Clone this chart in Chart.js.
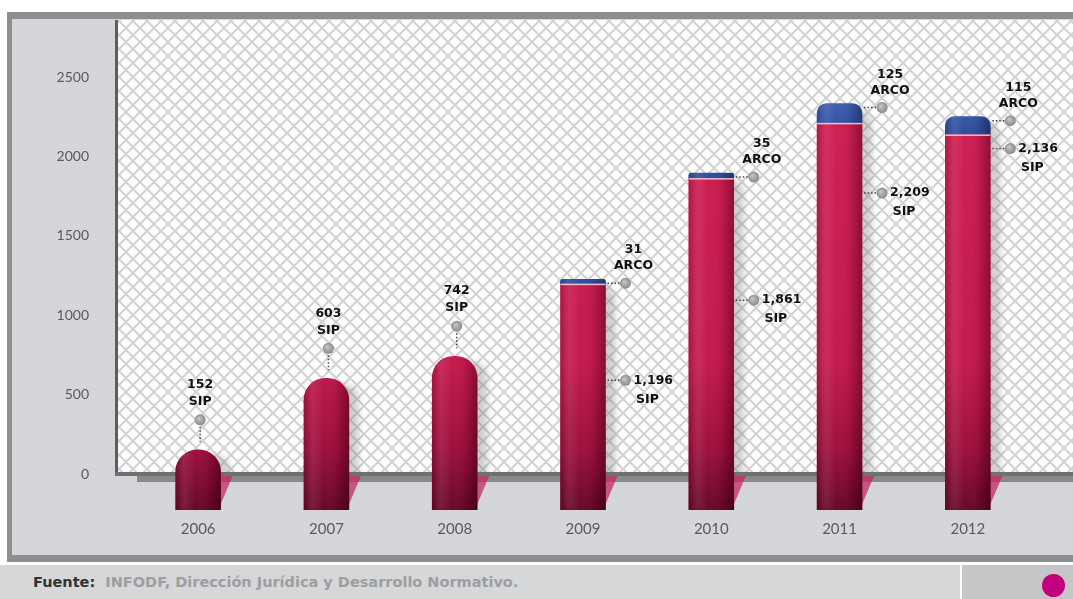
<!DOCTYPE html>
<html lang="es">
<head>
<meta charset="utf-8">
<title>Solicitudes SIP y ARCO 2006-2012</title>
<script src="https://cdn.jsdelivr.net/npm/chart.js@4.4.1/dist/chart.umd.min.js"></script>
<style>
  html, body { margin: 0; padding: 0; background: #fff; }
  body { width: 1073px; height: 599px; position: relative; overflow: hidden; }
  .marco { position: absolute; left: 7px; top: 12px; width: 1066px; height: 550px; background: #8d8e90; }
  .panel { position: absolute; left: 5px; top: 7px; right: 0; bottom: 7px; background: #d4d6d9; }
  .pie { position: absolute; left: 0; top: 565px; width: 1073px; height: 34px; background: #d6d7d9;
         font: bold 14.5px "DejaVu Sans", sans-serif; color: #9d9ea0; }
  .pie p { margin: 0; position: absolute; left: 33px; top: 9px; }
  .pie .f { color: #333; }
  .pie .caja { position: absolute; left: 960px; top: 0; width: 111px; height: 34px; background: #c5c6c8; border-left: 2px solid #fff; }
  .pie .punto { position: absolute; left: 80px; top: 9px; width: 23px; height: 23px; border-radius: 50%; background: #c2007e; }
  canvas { position: absolute; left: 0; top: 0; }
</style>
</head>
<body>
<div class="marco"><div class="panel"></div></div>
<div class="pie">
  <p><span class="f">Fuente:</span>&nbsp; INFODF, Dirección Jurídica y Desarrollo Normativo.</p>
  <div class="caja"><div class="punto"></div></div>
</div>
<canvas id="grafica" width="1073" height="599"></canvas>
<script>
const anios = ['2006', '2007', '2008', '2009', '2010', '2011', '2012'];
const solicitudesSIP = [152, 603, 742, 1196, 1861, 2209, 2136];
const solicitudesARCO = [null, null, null, 31, 35, 125, 115];
const ticksY = [0, 500, 1000, 1500, 2000, 2500];
// altura (en unidades del eje) donde va la etiqueta SIP al costado de la barra
const alturaEtiquetaSIP = [null, null, null, 590, 1095, 1770, 2050];

const PROFUNDIDAD = -225; // las barras bajan por debajo del piso
const RADIO = 22;

function patronRejilla(ctx) {
    const t = document.createElement('canvas');
    t.width = 14; t.height = 14;
    const c = t.getContext('2d');
    c.fillStyle = '#ffffff';
    c.fillRect(0, 0, 14, 14);
    c.strokeStyle = '#d2d2d4';
    c.lineWidth = 2;
    for (const d of [-14, 0, 14]) {
        c.beginPath();
        c.moveTo(d, 0); c.lineTo(d + 14, 14);
        c.moveTo(d + 14, 0); c.lineTo(d, 14);
        c.stroke();
    }
    return ctx.createPattern(t, 'repeat');
}

function rutaBarra(ctx, x, y, w, h, r) {
    ctx.beginPath();
    ctx.moveTo(x, y + h);
    ctx.lineTo(x, y + r);
    ctx.arcTo(x, y, x + r, y, r);
    ctx.lineTo(x + w - r, y);
    ctx.arcTo(x + w, y, x + w, y + r, r);
    ctx.lineTo(x + w, y + h);
    ctx.closePath();
}

function degradadoRojo(c) {
    const a = c.chart.chartArea;
    if (!a) return '#c4184a';
    const g = c.chart.ctx.createLinearGradient(0, a.top, 0, a.bottom + 36);
    g.addColorStop(0, '#d11d51');
    g.addColorStop(0.7, '#c3164a');
    g.addColorStop(0.88, '#9a0c39');
    g.addColorStop(1, '#650424');
    return g;
}

function degradadoAzul(c) {
    const a = c.chart.chartArea;
    if (!a) return '#3556a6';
    const g = c.chart.ctx.createLinearGradient(0, a.top + 70, 0, a.top + 110);
    g.addColorStop(0, '#4466b8');
    g.addColorStop(1, '#2c4b9c');
    return g;
}

function puntoGris(ctx, x, y) {
    const g = ctx.createRadialGradient(x - 1.5, y - 1.5, 0.5, x, y, 5.5);
    g.addColorStop(0, '#c4c4c4');
    g.addColorStop(1, '#8a8a8a');
    ctx.save();
    ctx.fillStyle = g;
    ctx.beginPath();
    ctx.arc(x, y, 5.5, 0, Math.PI * 2);
    ctx.fill();
    ctx.restore();
}

function punteada(ctx, x1, y1, x2, y2) {
    ctx.save();
    ctx.strokeStyle = '#444';
    ctx.lineWidth = 1.5;
    ctx.setLineDash([1.5, 2]);
    ctx.beginPath();
    ctx.moveTo(x1, y1); ctx.lineTo(x2, y2);
    ctx.stroke();
    ctx.restore();
}

// fondo cuadriculado, piso y sombras de las barras
const fondo = {
    id: 'fondo',
    beforeDatasetsDraw(chart) {
        const { ctx, chartArea: a, width } = chart;
        const x0 = a.left - 17;
        ctx.save();
        ctx.fillStyle = patronRejilla(ctx);
        ctx.fillRect(x0, a.top, width - x0, a.bottom - a.top);

        const sip = chart.getDatasetMeta(0).data;
        const arco = chart.getDatasetMeta(1).data;
        sip.forEach((el, i) => {
            const arriba = solicitudesARCO[i] ? arco[i].y : el.y;
            const izq = el.x - el.width / 2;
            ctx.save();
            ctx.beginPath();
            ctx.rect(x0, a.top, width - x0, a.bottom - a.top);
            ctx.clip();
            ctx.filter = 'blur(3px)';
            ctx.fillStyle = 'rgba(120,120,124,0.35)';
            rutaBarra(ctx, izq + 10, arriba + 6, el.width, a.bottom - arriba, 14);
            ctx.fill();
            ctx.restore();
        });

        ctx.fillStyle = '#5e5e60';
        ctx.fillRect(x0 - 2, a.top, 3, a.bottom - a.top + 2);
        ctx.fillStyle = '#6f7072';
        ctx.fillRect(x0 - 2, a.bottom - 2, width, 4);
        ctx.fillStyle = '#88898b';
        ctx.fillRect(x0 + 20, a.bottom + 2, width, 6);

        // sombra rosada de cada barra sobre el piso
        sip.forEach(el => {
            const der = el.x + el.width / 2;
            ctx.fillStyle = 'rgba(196,40,98,0.75)';
            ctx.beginPath();
            ctx.moveTo(der - 1, a.bottom + 2);
            ctx.lineTo(der + 12, a.bottom + 2);
            ctx.lineTo(der - 1, el.base - 3);
            ctx.closePath();
            ctx.fill();
        });
        ctx.restore();
    },

    afterDatasetsDraw(chart) {
        const { ctx, scales: { y } } = chart;
        const sip = chart.getDatasetMeta(0).data;
        const arco = chart.getDatasetMeta(1).data;
        ctx.save();

        // volumen: brillo a la izquierda, sombra a la derecha
        const sombrear = (el, r) => {
            const izq = el.x - el.width / 2;
            const h = el.base - el.y;
            const rr = Math.min(r, el.width / 2, h / 2);
            const g = ctx.createLinearGradient(izq, 0, izq + el.width, 0);
            g.addColorStop(0, 'rgba(0,0,0,0.14)');
            g.addColorStop(0.2, 'rgba(255,255,255,0.10)');
            g.addColorStop(0.45, 'rgba(255,255,255,0.02)');
            g.addColorStop(0.8, 'rgba(0,0,0,0.10)');
            g.addColorStop(1, 'rgba(0,0,0,0.32)');
            ctx.fillStyle = g;
            rutaBarra(ctx, izq, el.y, el.width, h, rr);
            ctx.fill();
        };
        sip.forEach((el, i) => {
            sombrear(el, solicitudesARCO[i] ? 0 : RADIO);
            if (solicitudesARCO[i]) sombrear(arco[i], RADIO);
        });

        const texto = (t, x, yy, alin) => {
            ctx.fillStyle = '#111';
            ctx.textAlign = alin;
            ctx.fillText(t, x, yy);
        };
        ctx.font = 'bold 12.5px "DejaVu Sans", sans-serif';
        ctx.textBaseline = 'middle';
        sip.forEach((el, i) => {
            const valor = solicitudesSIP[i].toLocaleString('en-US');
            if (!solicitudesARCO[i]) {
                const cx = el.x + 2;
                puntoGris(ctx, cx, el.y - 30);
                punteada(ctx, cx, el.y - 23, cx, el.y - 8);
                texto('SIP', cx, el.y - 48, 'center');
                texto(valor, cx, el.y - 65, 'center');
                return;
            }
            const der = el.x + el.width / 2;
            const px = der + 20;

            // separación entre SIP y ARCO
            ctx.fillStyle = 'rgba(255,215,228,0.85)';
            ctx.fillRect(el.x - el.width / 2, el.y - 0.5, el.width, 1.5);

            const ya = arco[i].y + 4;
            punteada(ctx, der + 2, ya, px - 6, ya);
            puntoGris(ctx, px, ya);
            texto(String(solicitudesARCO[i]), px + 8, ya - 33, 'center');
            texto('ARCO', px + 8, ya - 17, 'center');

            const ys = y.getPixelForValue(alturaEtiquetaSIP[i]);
            punteada(ctx, der + 2, ys, px - 6, ys);
            puntoGris(ctx, px, ys);
            texto(valor, px + 8, ys, 'left');
            texto('SIP', px + 22, ys + 19, 'center');
        });
        ctx.restore();
    }
};

new Chart(document.getElementById('grafica'), {
    type: 'bar',
    data: {
        labels: anios,
        datasets: [
            {
                label: 'SIP',
                data: solicitudesSIP,
                base: PROFUNDIDAD,
                backgroundColor: degradadoRojo,
                borderRadius: c => solicitudesARCO[c.dataIndex] ? 0 : { topLeft: RADIO, topRight: RADIO },
                borderSkipped: 'start',
                barThickness: 45,
                clip: false
            },
            {
                label: 'ARCO',
                data: solicitudesARCO,
                backgroundColor: degradadoAzul,
                borderRadius: { topLeft: RADIO, topRight: RADIO },
                borderSkipped: 'start',
                barThickness: 45,
                clip: false
            }
        ]
    },
    options: {
        responsive: false,
        animation: false,
        layout: { padding: { top: 20, right: 41, left: 0, bottom: 0 } },
        plugins: {
            legend: { display: false },
            tooltip: { enabled: false }
        },
        scales: {
            x: {
                stacked: true,
                grid: { display: false, drawTicks: false },
                border: { display: false },
                ticks: { color: '#5a5a5c', font: { family: 'Lato', size: 15 }, padding: 46 },
                afterFit(s) { s.height = 125; }
            },
            y: {
                stacked: true,
                min: 0,
                max: 2860,
                grid: { display: false, drawTicks: false },
                border: { display: false },
                ticks: {
                    color: '#5a5a5c',
                    font: { family: 'Lato', size: 14 },
                    padding: 45,
                    callback: v => String(v)
                },
                afterBuildTicks(s) { s.ticks = ticksY.map(v => ({ value: v })); },
                afterFit(s) {
                    s.width = 134;
                    // el relleno de las etiquetas no debe empujar el área hacia abajo
                    s.paddingTop = 0;
                    s.paddingBottom = 0;
                }
            }
        }
    },
    plugins: [fondo]
});
</script>
</body>
</html>
